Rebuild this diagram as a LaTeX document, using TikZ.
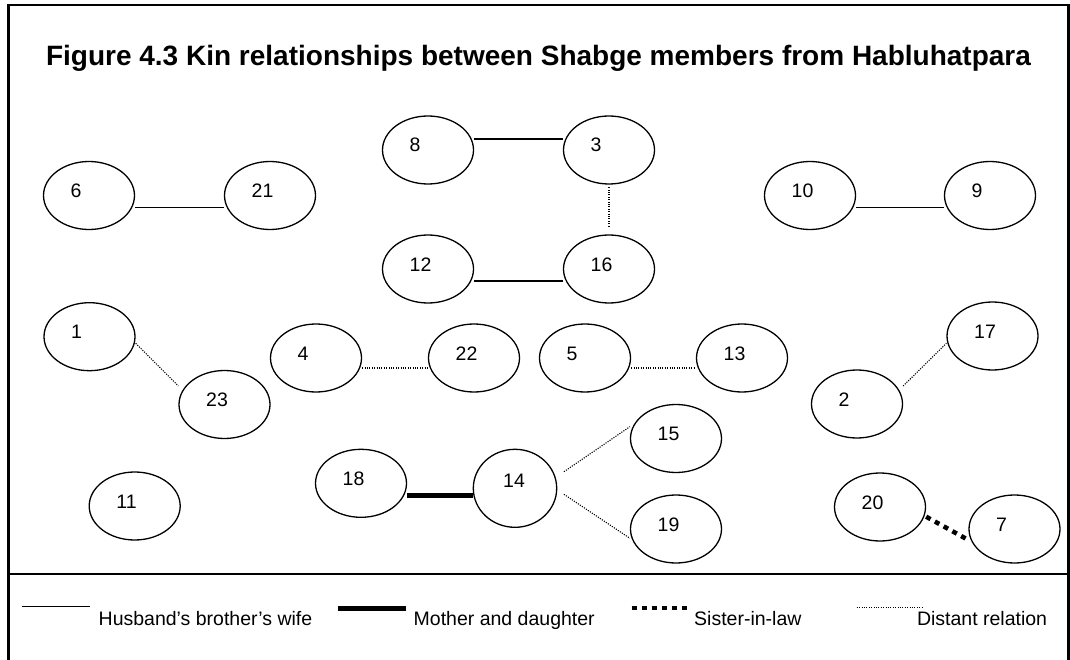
\documentclass[tikz,border=0pt]{standalone}
\usepackage{fontspec}
\setmainfont{Liberation Sans}
\usetikzlibrary{shapes.geometric}

\tikzset{
  member/.style={draw, ellipse, line width=1.3pt, minimum width=91pt,
                 minimum height=68pt, inner sep=0pt},
  num/.style={anchor=base west, inner sep=0pt, font=\fontsize{19.5}{22}\selectfont},
  keytext/.style={anchor=base west, inner sep=0pt, font=\fontsize{19.5}{22}\selectfont},
  titletext/.style={anchor=base, inner sep=0pt, font=\bfseries\fontsize{28}{32}\selectfont},
  frame/.style={line width=2.5pt},
  husband/.style={line width=1.3pt},
  mother/.style={line width=5pt},
  inlaw/.style={line width=4.5pt, dash pattern=on 5pt off 5pt},
  distant/.style={line width=1.1pt, dash pattern=on 1.1pt off 1.3pt},
}

% one group member: ellipse (p<id>) and its number (n<id>)
\newcommand\kinmember[3]{%
  \node[member] (p#1) at (#2,#3) {};
  \node[num] (n#1) at ([xshift=-18.5pt,yshift=-2pt]p#1.center) {#1};}

\begin{document}
\begin{tikzpicture}[x=1pt,y=-1pt]
\useasboundingbox (0,0) rectangle (1070,660);

% outer frame and key separator
\draw[frame] (8.5,662) -- (8.5,5) -- (1068.5,5) -- (1068.5,662);
\draw[frame] (8.5,574) -- (1068.5,574);

\node[titletext] (title) at (538.5,66)
  {Figure 4.3 Kin relationships between Shabge members from Habluhatpara};

% members
\kinmember{6}{89}{195.5}
\kinmember{21}{270}{195.5}
\kinmember{8}{428}{150}
\kinmember{3}{609}{150}
\kinmember{10}{810}{195.5}
\kinmember{9}{990}{195.5}
\kinmember{12}{428}{269}
\kinmember{16}{609}{269}
\kinmember{1}{89.5}{336.7}
\kinmember{23}{224.5}{404.5}
\kinmember{4}{316}{358}
\kinmember{22}{474}{358}
\kinmember{5}{585}{358}
\kinmember{13}{742}{358}
\kinmember{17}{992.5}{336}
\kinmember{2}{857}{404}
\kinmember{18}{361}{483.3}
\kinmember{15}{676}{438.5}
\kinmember{19}{676}{529}
\kinmember{11}{134.7}{506}
\kinmember{20}{880}{507}
\kinmember{7}{1014.5}{529}
\node[member, minimum width=83.4pt, minimum height=78pt] (p14) at (515,488.3) {};
\node[num] (n14) at ([xshift=-12pt,yshift=1pt]p14.center) {14};

% husband's brother's wife
\draw[husband] ([yshift=-12pt]p6.east) -- ([yshift=-12pt]p6.east -| p21.west);
\draw[husband] ([yshift=11pt]p8.east) -- ([yshift=11pt]p8.east -| p3.west);
\draw[husband] ([yshift=-12pt]p12.east) -- ([yshift=-12pt]p12.east -| p16.west);
\draw[husband] ([yshift=-12pt]p10.east) -- ([yshift=-12pt]p10.east -| p9.west);

% mother and daughter
\draw[mother] ([yshift=-12.4pt]p18.east) -- ([yshift=-12.4pt]p18.east -| p14.west);

% sister-in-law
\draw[inlaw] ([yshift=-9.7pt]p20.east) -- ([yshift=-11pt]p7.west);

% distant relations
\draw[distant, shorten <=2.5pt, shorten >=8pt] (p3) -- (p16);
\draw[distant] ([yshift=-6.6pt]p1.east) -- ([yshift=18.5pt]p23.west);
\draw[distant] ([yshift=-10pt]p4.east) -- ([yshift=-10pt]p4.east -| p22.west);
\draw[distant] ([yshift=-10pt]p5.east) -- ([yshift=-10pt]p5.east -| p13.west);
\draw[distant] ([yshift=18pt]p2.east) -- ([yshift=-7.3pt]p17.west);
\draw[distant] ([xshift=6.6pt,yshift=16.6pt]p14.east) -- ([yshift=11.8pt]p15.west);
\draw[distant] ([xshift=6.6pt,yshift=-6pt]p14.east) -- ([yshift=-9.3pt]p19.west);

% key
\coordinate (k1a) at (21.7,606.7);  \coordinate (k1b) at (90,606.7);
\coordinate (k2a) at (338.3,608.3); \coordinate (k2b) at (406,608.3);
\coordinate (k3a) at (631.7,608);   \coordinate (k3b) at (688,608);
\coordinate (k4a) at (856.7,607.7); \coordinate (k4b) at (921.7,607.7);
\draw[husband] (k1a) -- (k1b);
\draw[mother]  (k2a) -- (k2b);
\draw[inlaw]   (k3a) -- (k3b);
\draw[distant] (k4a) -- (k4b);
\node[keytext] (t1) at (98.5,625)  {Husband’s brother’s wife};
\node[keytext] (t2) at (413.5,625) {Mother and daughter};
\node[keytext] (t3) at (694,625)   {Sister-in-law};
\node[keytext] (t4) at (916.8,625) {Distant relation};
\end{tikzpicture}
\end{document}
